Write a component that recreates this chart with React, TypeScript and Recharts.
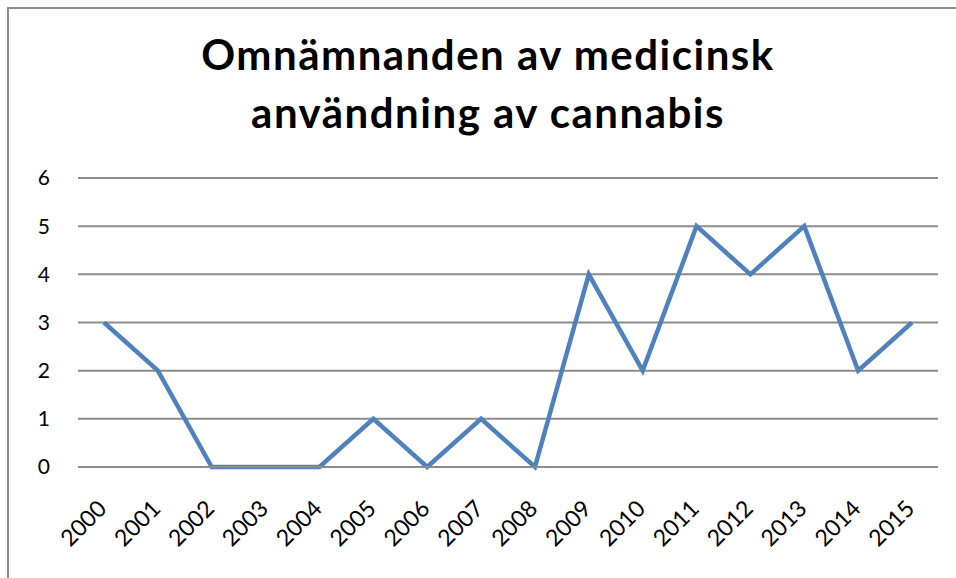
import { LineChart, Line, XAxis, YAxis, CartesianGrid } from "recharts";

const years = [
  "2000", "2001", "2002", "2003", "2004", "2005", "2006", "2007",
  "2008", "2009", "2010", "2011", "2012", "2013", "2014", "2015",
];
const mentions = [3, 2, 0, 0, 0, 1, 0, 1, 0, 4, 2, 5, 4, 5, 2, 3];
const yTicks = [0, 1, 2, 3, 4, 5, 6];

const titleLines = ["Omnämnanden av medicinsk", "användning av cannabis"];

const chartData = years.map((year, i) => ({ year, mentions: mentions[i] }));

const font = "Lato, 'Open Sans', sans-serif";

function YearTick(props: any) {
  const { x, y, payload } = props;
  return (
    <text
      transform={`translate(${x + 4}, ${y + 43}) rotate(-45)`}
      textAnchor="end"
      fontSize={23}
      fontFamily={font}
      fill="#000"
    >
      {payload.value}
    </text>
  );
}

export default function App() {
  return (
    <div
      style={{
        position: "absolute",
        left: 0,
        top: 0,
        width: 956,
        height: 578,
        background: "#fff",
        overflow: "hidden",
      }}
    >
      <div
        style={{
          position: "absolute",
          left: 7,
          top: 7,
          width: 1000,
          height: 600,
          borderLeft: "2px solid #8c8c8c",
          borderTop: "2px solid #8c8c8c",
        }}
      />
      <div
        style={{
          position: "absolute",
          left: 0,
          top: 25,
          width: 976,
          textAlign: "center",
          fontFamily: font,
          fontWeight: 700,
          fontSize: 42,
          letterSpacing: 1.5,
          lineHeight: "58px",
          color: "#000",
        }}
      >
        {titleLines.map((t) => (
          <div key={t}>{t}</div>
        ))}
      </div>
      <div style={{ position: "absolute", left: 0, top: 0 }}>
        <LineChart
          width={956}
          height={578}
          data={chartData}
          margin={{ top: 178, right: 18, left: 0, bottom: 11 }}
        >
          <CartesianGrid vertical={false} stroke="#8c8c8c" strokeWidth={2} />
          <XAxis
            dataKey="year"
            interval={0}
            height={100}
            padding={{ left: 26, right: 26 }}
            tickLine={false}
            tickSize={0}
            tickMargin={0}
            axisLine={{ stroke: "#8c8c8c", strokeWidth: 2 }}
            tick={<YearTick />}
          />
          <YAxis
            domain={[0, 6]}
            ticks={yTicks}
            width={78}
            axisLine={false}
            tickLine={false}
            tickSize={0}
            tickMargin={28}
            tick={{ fontSize: 21, fontFamily: font, fill: "#000" }}
          />
          <Line
            type="linear"
            dataKey="mentions"
            stroke="#4f81bd"
            strokeWidth={4.5}
            dot={false}
            isAnimationActive={false}
          />
        </LineChart>
      </div>
    </div>
  );
}
